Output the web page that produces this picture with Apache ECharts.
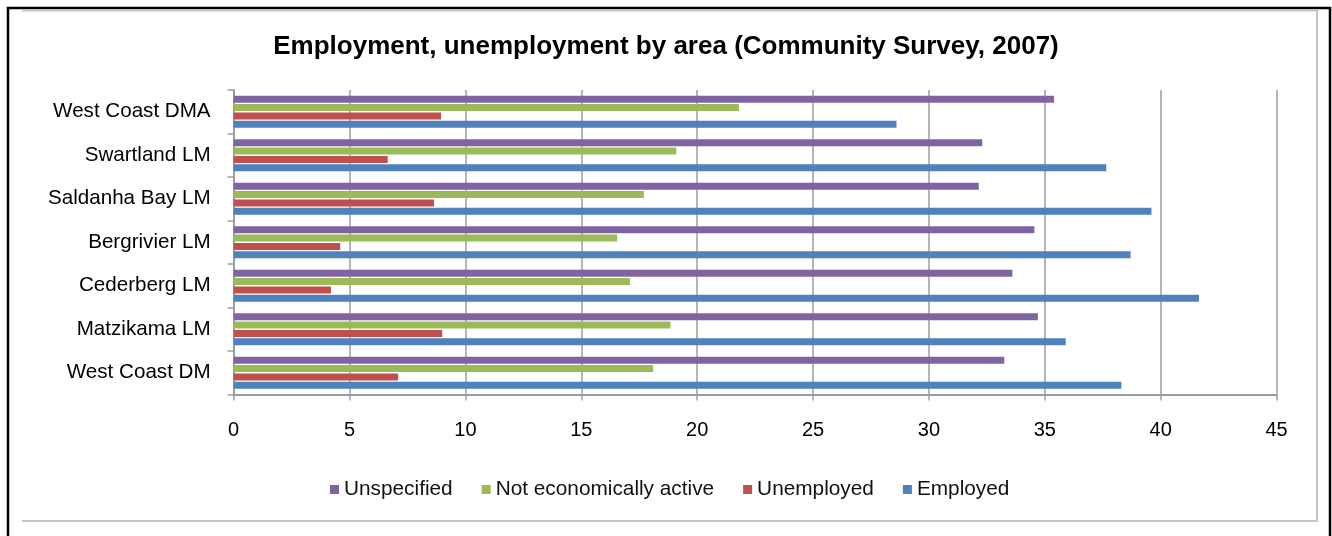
<!DOCTYPE html>
<html>
<head>
<meta charset="utf-8">
<title>Employment, unemployment by area</title>
<script src="https://cdn.jsdelivr.net/npm/echarts@6/dist/echarts.min.js"></script>
<style>
  html,
  body {
    margin: 0;
    padding: 0;
    background: #fff;
  }
  #chartBar {
    width: 1332px;
    height: 536px;
  }
</style>
</head>
<body>
<div id="chartBar"></div>
<script>
// categories, listed bottom -> top as the axis draws them
let areas = [
  "West Coast DM",
  "Matzikama LM",
  "Cederberg LM",
  "Bergrivier LM",
  "Saldanha Bay LM",
  "Swartland LM",
  "West Coast DMA",
];
let employed = [38.3, 35.9, 41.65, 38.7, 39.6, 37.65, 28.6];
let unemployed = [7.1, 9.0, 4.2, 4.6, 8.65, 6.65, 8.95];
let notActive = [18.1, 18.85, 17.1, 16.55, 17.7, 19.1, 21.8];
let unspecified = [33.25, 34.7, 33.6, 34.55, 32.15, 32.3, 35.4];
let xTicks = [0, 45, 5]; // min, max, interval

let fontFamily = "Arial, 'Liberation Sans', sans-serif";
let gridGrey = "#9c9c9c";

let chartBar = echarts.init(document.getElementById("chartBar"));

function barSeries(name, data, color) {
  return {
    name: name,
    type: "bar",
    data: data,
    barWidth: 7,
    barGap: "18%",
    itemStyle: {
      color: color,
    },
  };
}

let option = {
  animation: false,
  backgroundColor: "#fff",
  textStyle: {
    fontFamily: fontFamily,
  },
  title: {
    text: "Employment, unemployment by area (Community Survey, 2007)",
    left: "center",
    top: 34,
    padding: 0,
    textStyle: {
      color: "#000",
      fontSize: 26,
      fontWeight: "bold",
      fontFamily: fontFamily,
    },
  },
  legend: {
    data: ["Unspecified", "Not economically active", "Unemployed", "Employed"],
    left: 330,
    top: 479,
    padding: 0,
    itemWidth: 9,
    itemHeight: 9,
    itemGap: 29,
    icon: "rect",
    textStyle: {
      color: "#111",
      fontSize: 20.8,
      fontFamily: fontFamily,
    },
  },
  grid: {
    left: 233.6,
    right: 55.4,
    top: 90,
    bottom: 141.5,
  },
  xAxis: {
    type: "value",
    min: xTicks[0],
    max: xTicks[1],
    interval: xTicks[2],
    axisLine: {
      show: true,
      lineStyle: { color: gridGrey, width: 2 },
    },
    axisTick: {
      show: true,
      length: 6,
      lineStyle: { color: gridGrey, width: 1.5 },
    },
    axisLabel: {
      margin: 26,
      color: "#000",
      fontSize: 20,
      fontFamily: fontFamily,
    },
    splitLine: {
      show: true,
      lineStyle: { color: gridGrey, width: 1.5 },
    },
  },
  yAxis: {
    type: "category",
    data: areas,
    axisLine: {
      show: true,
      lineStyle: { color: gridGrey, width: 2 },
    },
    axisTick: {
      show: true,
      length: 6,
      lineStyle: { color: gridGrey, width: 1.5 },
    },
    axisLabel: {
      margin: 23,
      padding: [8, 0, 0, 0],
      color: "#000",
      fontSize: 20.6,
      fontFamily: fontFamily,
    },
  },
  // first series sits on top of each group
  series: [
    barSeries("Unspecified", unspecified, "#8064A2"),
    barSeries("Not economically active", notActive, "#9BBB59"),
    barSeries("Unemployed", unemployed, "#C0504D"),
    barSeries("Employed", employed, "#4F81BD"),
  ],
  graphic: [
    // black page frame
    {
      type: "polyline",
      shape: { points: [[8, 536], [8, 8], [1330, 8], [1330, 536]] },
      style: { stroke: "#000", lineWidth: 2.5, fill: null },
      silent: true,
    },
    // grey chart area border
    {
      type: "polyline",
      shape: { points: [[22, 10.5], [1317, 10.5], [1317, 521], [22, 521]] },
      style: { stroke: "#c4c4c4", lineWidth: 2, fill: null },
      silent: true,
    },
  ],
};

chartBar.setOption(option);
</script>
</body>
</html>
